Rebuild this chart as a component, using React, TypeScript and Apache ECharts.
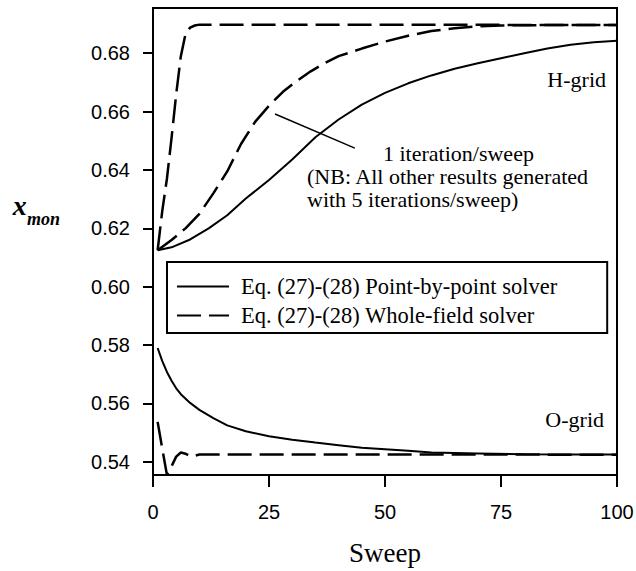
import React, { useEffect, useRef } from 'react';
import * as echarts from 'echarts';

// ---- Data ----
const P_NAME = 'Eq. (27)-(28) Point-by-point solver';
const W_NAME = 'Eq. (27)-(28) Whole-field solver';

const xTickStep = 25;
const yTickValues = [0.54, 0.56, 0.58, 0.6, 0.62, 0.64, 0.66, 0.68];

// H-grid, whole-field solver, 5 iterations/sweep
const hWholeSweeps = [1, 2, 3, 4, 5, 6, 7, 8, 9, 10, 20, 40, 60, 80, 100];
const hWholeValues = [0.6125, 0.626, 0.637, 0.651, 0.666, 0.679, 0.6865, 0.6888, 0.6895, 0.6898, 0.6898, 0.6898, 0.6898, 0.6897, 0.6897];

// H-grid, whole-field solver, 1 iteration/sweep
const hWhole1Sweeps = [1, 4, 7, 10, 13, 16, 19, 22, 25, 28, 31, 34, 37, 40, 45, 50, 55, 60, 65, 70, 75, 80, 90, 100];
const hWhole1Values = [0.6125, 0.616, 0.62, 0.625, 0.632, 0.6395, 0.649, 0.6565, 0.662, 0.6668, 0.6705, 0.6738, 0.6766, 0.679, 0.6816, 0.684, 0.686, 0.6876, 0.6886, 0.6892, 0.6895, 0.6896, 0.6897, 0.6897];

// H-grid, point-by-point solver
const hPointSweeps = [1, 4, 8, 12, 16, 20, 25, 30, 35, 40, 45, 50, 55, 60, 65, 70, 75, 80, 85, 90, 95, 100];
const hPointValues = [0.6125, 0.6135, 0.6162, 0.62, 0.6245, 0.6302, 0.6366, 0.6436, 0.6512, 0.6573, 0.6624, 0.6664, 0.6697, 0.6724, 0.6747, 0.6766, 0.6783, 0.68, 0.6816, 0.6829, 0.6838, 0.6843];

// O-grid, point-by-point solver
const oPointSweeps = [1, 2, 3, 4, 5, 6, 8, 10, 13, 16, 20, 25, 30, 35, 40, 45, 50, 55, 60, 70, 80, 90, 100];
const oPointValues = [0.579, 0.5745, 0.5708, 0.5678, 0.5652, 0.5632, 0.5602, 0.5578, 0.555, 0.5525, 0.5505, 0.5488, 0.5476, 0.5466, 0.5457, 0.5448, 0.5443, 0.5438, 0.5432, 0.5429, 0.5426, 0.5425, 0.5425];

// O-grid, whole-field solver
const oWholeSweeps = [1, 2, 3, 4, 5, 6, 7, 8, 9, 10, 20, 40, 60, 80, 100];
const oWholeValues = [0.5537, 0.5445, 0.5356, 0.5385, 0.5418, 0.5432, 0.5428, 0.5419, 0.5421, 0.5425, 0.5425, 0.5425, 0.5425, 0.5425, 0.5424];

// annotation pointer (data coordinates)
const pointerStart = [26.3, 0.6592];
const pointerEnd = [43.5, 0.6475];

const zip = (xs: number[], ys: number[]) => xs.map((x, i) => [x, ys[i]]);

const SERIF = '"Liberation Serif", "Times New Roman", serif';
const SANS = '"Liberation Sans", Arial, sans-serif';

const solidStyle = { color: '#000', width: 2, type: 'solid' as const };
const dashStyle = { color: '#000', width: 2.5, type: [24, 8] };

function buildOption() {
  const base = {
    type: 'line',
    symbol: 'none',
    showSymbol: false,
    silent: true,
    smooth: false,
    emphasis: { disabled: true },
    itemStyle: { color: '#000' },
  };
  return {
    animation: false,
    backgroundColor: '#fff',
    grid: {
      left: 153,
      top: 8,
      width: 464,
      height: 467,
      show: true,
      borderColor: '#000',
      borderWidth: 2,
      backgroundColor: 'transparent',
      containLabel: false,
      outerBoundsMode: 'none',
    },
    xAxis: {
      type: 'value',
      min: 0,
      max: 100,
      interval: xTickStep,
      name: 'Sweep',
      nameLocation: 'middle',
      nameGap: 64,
      nameTextStyle: { fontFamily: SERIF, fontSize: 27, color: '#000' },
      axisLine: { show: true, lineStyle: { color: '#000', width: 2 } },
      axisTick: { show: true, inside: false, length: 12, lineStyle: { color: '#000', width: 2 } },
      axisLabel: { margin: 27, fontFamily: SANS, fontSize: 20, color: '#000' },
      splitLine: { show: false },
    },
    yAxis: {
      type: 'value',
      min: 0.5355,
      max: 0.6955,
      axisLine: { show: true, lineStyle: { color: '#000', width: 2 } },
      axisTick: {
        show: true,
        inside: false,
        length: 10,
        customValues: yTickValues,
        lineStyle: { color: '#000', width: 2 },
      },
      axisLabel: {
        margin: 23,
        fontFamily: SANS,
        fontSize: 20,
        color: '#000',
        customValues: yTickValues,
        formatter: (v: number) => v.toFixed(2),
      },
      splitLine: { show: false },
    },
    legend: {
      data: [P_NAME, W_NAME],
      orient: 'vertical',
      left: 167,
      top: 262,
      padding: [13, 50, 6, 9],
      itemGap: 6,
      itemWidth: 52,
      itemHeight: 14,
      selectedMode: false,
      borderColor: '#000',
      borderWidth: 2,
      borderRadius: 0,
      backgroundColor: '#fff',
      textStyle: { fontFamily: SERIF, fontSize: 22.5, color: '#000', padding: [0, 0, 0, 7] },
      itemStyle: { opacity: 0 },
    },
    series: [
      {
        ...base,
        name: P_NAME,
        data: zip(hPointSweeps, hPointValues),
        lineStyle: solidStyle,
        markLine: {
          silent: true,
          symbol: ['none', 'none'],
          label: { show: false },
          lineStyle: { color: '#000', width: 1.5, type: 'solid' },
          emphasis: { disabled: true },
          data: [[{ coord: pointerStart }, { coord: pointerEnd }]],
        },
      },
      {
        ...base,
        name: W_NAME,
        data: zip(hWholeSweeps, hWholeValues),
        lineStyle: dashStyle,
      },
      {
        ...base,
        name: W_NAME,
        data: zip(hWhole1Sweeps, hWhole1Values),
        lineStyle: dashStyle,
      },
      {
        ...base,
        name: P_NAME,
        data: zip(oPointSweeps, oPointValues),
        lineStyle: solidStyle,
      },
      {
        ...base,
        name: W_NAME,
        data: zip(oWholeSweeps, oWholeValues),
        lineStyle: dashStyle,
      },
    ],
    graphic: [
      {
        type: 'text',
        x: 12.7,
        y: 205.5,
        style: { text: 'x', fontFamily: SERIF, fontSize: 28, fontStyle: 'italic', fontWeight: 'bold', fill: '#000', align: 'left', verticalAlign: 'middle' },
      },
      {
        type: 'text',
        x: 27,
        y: 219,
        style: { text: 'mon', fontFamily: SERIF, fontSize: 18, fontStyle: 'italic', fontWeight: 'bold', fill: '#000', align: 'left', verticalAlign: 'middle' },
      },
      {
        type: 'text',
        x: 606,
        y: 79.6,
        style: { text: 'H-grid', fontFamily: SERIF, fontSize: 22, fill: '#000', align: 'right', verticalAlign: 'middle' },
      },
      {
        type: 'text',
        x: 604,
        y: 419,
        style: { text: 'O-grid', fontFamily: SERIF, fontSize: 22, fill: '#000', align: 'right', verticalAlign: 'middle' },
      },
      {
        type: 'text',
        x: 383,
        y: 153.6,
        style: { text: '1 iteration/sweep', fontFamily: SERIF, fontSize: 22, fill: '#000', align: 'left', verticalAlign: 'middle' },
      },
      {
        type: 'text',
        x: 307,
        y: 176.6,
        style: { text: '(NB: All other results generated', fontFamily: SERIF, fontSize: 22, fill: '#000', align: 'left', verticalAlign: 'middle' },
      },
      {
        type: 'text',
        x: 307,
        y: 199.6,
        style: { text: 'with 5 iterations/sweep)', fontFamily: SERIF, fontSize: 22, fill: '#000', align: 'left', verticalAlign: 'middle' },
      },
    ],
  };
}

export default function App() {
  const ref = useRef<HTMLDivElement>(null);
  useEffect(() => {
    document.body.style.margin = '0';
    const el = ref.current;
    if (!el) return;
    const chart = echarts.init(el, null, { renderer: 'svg' });
    chart.setOption(buildOption() as any);
    return () => {
      chart.dispose();
    };
  }, []);
  return <div ref={ref} style={{ width: 636, height: 571 }} />;
}
